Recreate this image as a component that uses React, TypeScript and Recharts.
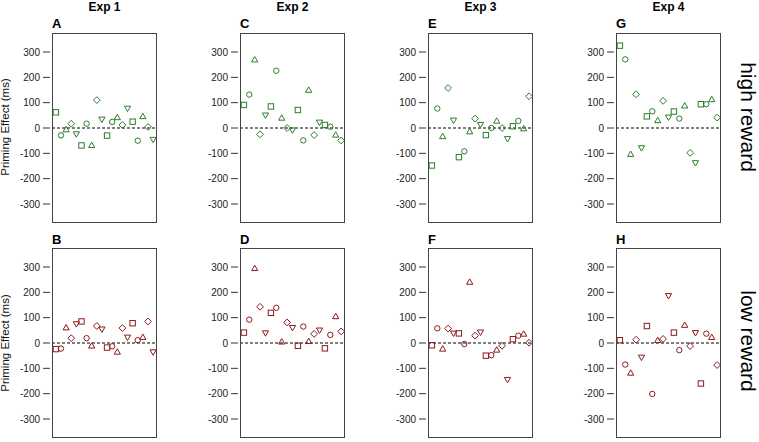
import { ScatterChart, Scatter, XAxis, YAxis, ReferenceLine } from 'recharts';

// marker order cycles: square, circle, triangle, diamond, triangle-down
const SHAPES = ['square', 'circle', 'triangle', 'diamond', 'triangleDown'];
const Y_TICKS = [-300, -200, -100, 0, 100, 200, 300];
const EXPERIMENTS = ['Exp 1', 'Exp 2', 'Exp 3', 'Exp 4'];
const HIGH_LETTERS = ['A', 'C', 'E', 'G'];
const LOW_LETTERS = ['B', 'D', 'F', 'H'];

const highExp1 = [62, -29, -8, 17, -22, -69, 17, -70, 110, 36, -30, 24, 40, 12, 79, 25, -50, 44, 4, -44];
const highExp2 = [91, 132, 268, -25, 52, 85, 226, 38, 0, -7, 71, -49, 148, -28, 24, 12, 5, -29, -49];
const highExp3 = [-148, 77, -35, 158, 32, -115, -92, -16, 37, 15, -28, 0, 26, 0, -41, 7, 28, -4, 125];
const highExp4 = [325, 271, -105, 133, -77, 46, 66, 28, 107, 44, 65, 37, 86, -98, -136, 94, 94, 111, 41];

const lowExp1 = [-24, -22, 59, 19, 77, 85, 19, -13, 67, 56, -18, -13, -37, 59, 24, 78, 11, 21, 85, -34];
const lowExp2 = [41, 92, 293, 143, 41, 119, 139, 3, 81, 62, -11, 65, 5, 36, 52, -21, 32, 103, 46];
const lowExp3 = [-9, 58, -25, 57, 40, 38, -4, 239, 29, 44, -50, -48, -29, -11, -143, 15, 29, 34, 1];
const lowExp4 = [11, -85, -120, 13, -55, 67, -201, 9, 16, 188, 41, -28, 69, -12, 42, -160, 37, 21, -87];

const HIGH = [highExp1, highExp2, highExp3, highExp4];
const LOW = [lowExp1, lowExp2, lowExp3, lowExp4];

const GREEN = '#2b7d2b';
const RED = '#8B1A1A';
const FONT = '"Liberation Sans", Arial, Helvetica, sans-serif';

const COL_LEFT = [52, 240, 428, 616];
const ROW_TOP = [33, 248];
const BOX_W = 105;
const BOX_H = 190;
const AXIS_W = 50;

function Marker(props: any) {
  const { cx, cy, payload, color } = props;
  const st = { fill: 'none', stroke: color, strokeWidth: 1 };
  switch (payload.shape) {
    case 'square':
      return <rect x={cx - 2.7} y={cy - 2.7} width={5.4} height={5.4} {...st} />;
    case 'circle':
      return <circle cx={cx} cy={cy} r={2.7} {...st} />;
    case 'triangle': {
      const r = 3.6;
      return <polygon points={`${cx},${cy - r} ${cx + r * 0.866},${cy + r / 2} ${cx - r * 0.866},${cy + r / 2}`} {...st} />;
    }
    case 'triangleDown': {
      const r = 3.6;
      return <polygon points={`${cx},${cy + r} ${cx + r * 0.866},${cy - r / 2} ${cx - r * 0.866},${cy - r / 2}`} {...st} />;
    }
    default: {
      const r = 3.4;
      return <polygon points={`${cx},${cy - r} ${cx + r},${cy} ${cx},${cy + r} ${cx - r},${cy}`} {...st} />;
    }
  }
}

function YTick(props: any) {
  const { x, y, payload } = props;
  return (
    <g>
      <line x1={x - 9} x2={x - 2} y1={y} y2={y} stroke="#333" strokeWidth={1} />
      <text x={x - 12} y={y} dy="0.35em" textAnchor="end" fontSize={10} fill="#222" fontFamily={FONT}>
        {payload.value}
      </text>
    </g>
  );
}

function Panel({ values, color, left, top }: { values: number[]; color: string; left: number; top: number }) {
  const n = values.length;
  const pad = (n - 1) * 0.04;
  const data = values.map((v, i) => ({ x: i + 1, y: v, shape: SHAPES[i % SHAPES.length] }));
  return (
    <div style={{ position: 'absolute', left: left - AXIS_W, top }}>
      <ScatterChart width={AXIS_W + BOX_W} height={BOX_H} margin={{ top: 0, right: 0, bottom: 0, left: 0 }}>
        <XAxis type="number" dataKey="x" domain={[1 - pad, n + pad]} allowDataOverflow hide />
        <YAxis
          type="number"
          dataKey="y"
          domain={[-375, 375]}
          allowDataOverflow
          ticks={Y_TICKS}
          interval={0}
          width={AXIS_W}
          axisLine={false}
          tickLine={false}
          tickSize={0}
          tickMargin={0}
          tick={<YTick />}
        />
        <ReferenceLine y={0} stroke="#000" strokeWidth={1} strokeDasharray="3 2" />
        <Scatter
          data={data}
          isAnimationActive={false}
          shape={(p: any) => <Marker {...p} color={color} />}
        />
      </ScatterChart>
      <div
        style={{
          position: 'absolute',
          left: AXIS_W,
          top: 0,
          width: BOX_W,
          height: BOX_H,
          border: '1px solid #444',
          boxSizing: 'border-box',
          pointerEvents: 'none',
        }}
      />
    </div>
  );
}

export default function App() {
  return (
    <div style={{ position: 'absolute', left: 0, top: 0, width: 759, height: 442, background: '#fff', fontFamily: FONT }}>
      {HIGH.map((vals, c) => (
        <Panel key={`h${c}`} values={vals} color={GREEN} left={COL_LEFT[c]} top={ROW_TOP[0]} />
      ))}
      {LOW.map((vals, c) => (
        <Panel key={`l${c}`} values={vals} color={RED} left={COL_LEFT[c]} top={ROW_TOP[1]} />
      ))}
      <svg width={759} height={442} style={{ position: 'absolute', left: 0, top: 0, pointerEvents: 'none' }}>
        {EXPERIMENTS.map((t, c) => (
          <text key={t} x={COL_LEFT[c] + BOX_W / 2} y={11} textAnchor="middle" fontSize={12} fontWeight="bold" fontFamily={FONT}>
            {t}
          </text>
        ))}
        {HIGH_LETTERS.map((l, c) => (
          <text key={l} x={COL_LEFT[c]} y={28} fontSize={13} fontWeight="bold" fontFamily={FONT}>
            {l}
          </text>
        ))}
        {LOW_LETTERS.map((l, c) => (
          <text key={l} x={COL_LEFT[c]} y={244} fontSize={13} fontWeight="bold" fontFamily={FONT}>
            {l}
          </text>
        ))}
        <text transform="translate(9,127) rotate(-90)" textAnchor="middle" fontSize={11.5} fontFamily={FONT} fill="#111">
          Priming Effect (ms)
        </text>
        <text transform="translate(9,343) rotate(-90)" textAnchor="middle" fontSize={11.5} fontFamily={FONT} fill="#111">
          Priming Effect (ms)
        </text>
        <text transform="translate(741,117) rotate(90)" textAnchor="middle" fontSize={21} fontFamily={FONT}>
          high reward
        </text>
        <text transform="translate(741,341) rotate(90)" textAnchor="middle" fontSize={21} fontFamily={FONT}>
          low reward
        </text>
      </svg>
    </div>
  );
}
